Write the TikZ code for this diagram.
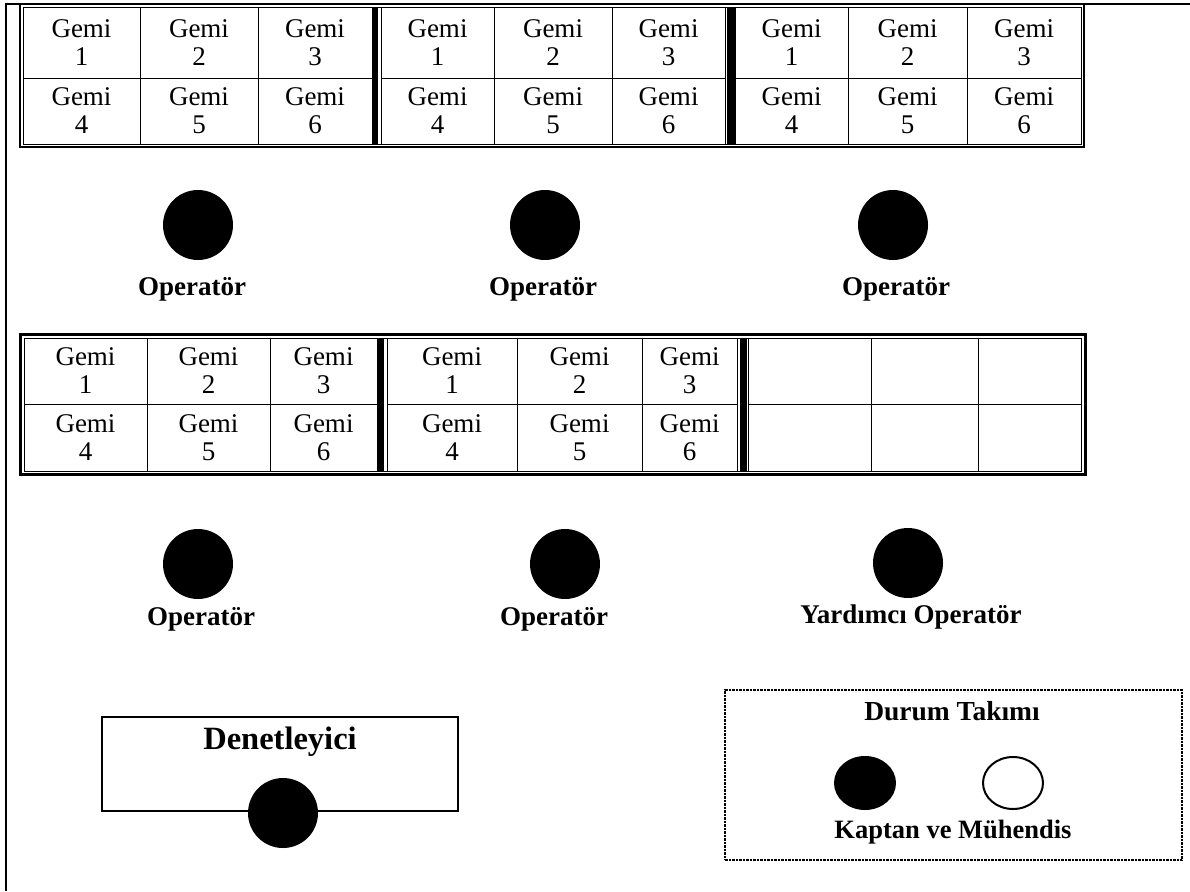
\documentclass[tikz,border=0pt]{standalone}
\usepackage{fontspec}
\setmainfont{Liberation Serif}
\usetikzlibrary{shapes.geometric, positioning}

\begin{document}
\begin{tikzpicture}[
    x=1pt, y=-1pt,
    cell/.style={rectangle, draw, line width=1pt, inner sep=0pt, align=center, font=\fontsize{27}{28}\selectfont},
    op/.style={circle, fill=black, minimum size=70pt, inner sep=0pt},
    lbl/.style={inner sep=0pt, font=\bfseries\fontsize{27}{28}\selectfont},
    bar/.style={fill=black}
]
    \useasboundingbox (0,0) rectangle (1190,891);

    % Page frame
    \draw[line width=1.5pt] (1190,4) -- (6,4) -- (6,891);

    % Upper ship table
    \foreach \xa/\xb [count=\i from 0] in {23/140,140/258,258/372,381/494,494/612,612/725,735/848,848/967,967/1081}{
        \pgfmathtruncatemacro{\k}{mod(\i,3)+1}
        \pgfmathtruncatemacro{\kk}{\k+3}
        \node[cell, minimum width={(\xb-\xa)*1pt}, minimum height=70pt] (ta\i) at ({(\xa+\xb)/2},43) {Gemi\\\k};
        \node[cell, minimum width={(\xb-\xa)*1pt}, minimum height=66pt] (tb\i) at ({(\xa+\xb)/2},111) {Gemi\\\kk};
    }
    \fill[bar] (372,8) rectangle (378,144);
    \fill[bar] (727,8) rectangle (735,144);
    \draw[line width=2pt] (20,4) rectangle (1084,147);
    \draw[line width=1pt] (23,8) rectangle (1081,144);

    % Operators, first row
    \node[op] (op1) at (198,225) {};
    \node[op] (op2) at (545,225) {};
    \node[op] (op3) at (893,225) {};
    \node[lbl] (op1lbl) at (192,289) {Operatör};
    \node[lbl] (op2lbl) at (543,289) {Operatör};
    \node[lbl] (op3lbl) at (896,289) {Operatör};

    % Lower ship table
    \foreach \xa/\xb [count=\i from 0] in {24/147,147/270,270/377,387/517,517/642,642/737}{
        \pgfmathtruncatemacro{\k}{mod(\i,3)+1}
        \pgfmathtruncatemacro{\kk}{\k+3}
        \node[cell, minimum width={(\xb-\xa)*1pt}, minimum height=66pt] (ua\i) at ({(\xa+\xb)/2},371) {Gemi\\\k};
        \node[cell, minimum width={(\xb-\xa)*1pt}, minimum height=67pt] (ub\i) at ({(\xa+\xb)/2},437.5) {Gemi\\\kk};
    }
    \foreach \xa/\xb [count=\i from 6] in {748/871,871/978,978/1081}{
        \node[cell, minimum width={(\xb-\xa)*1pt}, minimum height=66pt] (ua\i) at ({(\xa+\xb)/2},371) {};
        \node[cell, minimum width={(\xb-\xa)*1pt}, minimum height=67pt] (ub\i) at ({(\xa+\xb)/2},437.5) {};
    }
    \fill[bar] (377,338) rectangle (384,471);
    \fill[bar] (740,338) rectangle (747,471);
    \draw[line width=3pt] (20,334) rectangle (1085,474);
    \draw[line width=1pt] (24,338) rectangle (1081,471);

    % Operators, second row
    \node[op] (op4) at (198,564) {};
    \node[op] (op5) at (565,564) {};
    \node[op] (op6) at (908,563) {};
    \node[lbl] (op4lbl) at (201,619) {Operatör};
    \node[lbl] (op5lbl) at (554,619) {Operatör};
    \node[lbl] (op6lbl) at (911,617) {Yardımcı Operatör};

    % Supervisor
    \node[draw, line width=1.5pt, minimum width=356pt, minimum height=94pt, inner sep=0pt] (den) at (280,764) {};
    \node[lbl, font=\bfseries\fontsize{32.5}{34}\selectfont] (denlbl) at (280,742) {Denetleyici};
    \node[op] (denop) at (283,813) {};

    % Status team
    \node[draw, line width=1.2pt, dash pattern=on 2.5pt off 1pt, minimum width=457pt, minimum height=170pt, inner sep=0pt] (durum) at (953.5,775) {};
    \node[lbl, font=\bfseries\fontsize{27.5}{28}\selectfont] (durumlbl) at (952,711) {Durum Takımı};
    \node[ellipse, fill=black, minimum width=62pt, minimum height=54pt, inner sep=0pt] (kaptan) at (865,783) {};
    \node[ellipse, draw, line width=2pt, minimum width=60pt, minimum height=52pt, inner sep=0pt] (muh) at (1013,783) {};
    \node[lbl, font=\bfseries\fontsize{26.5}{28}\selectfont] (ekiplbl) at (953,832) {Kaptan ve Mühendis};
\end{tikzpicture}
\end{document}
